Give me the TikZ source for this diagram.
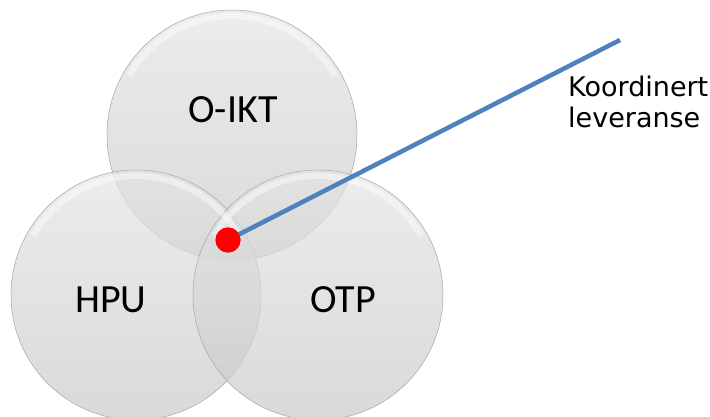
\documentclass[tikz,border=0pt]{standalone}
\usepackage{fontspec}
\setmainfont{Carlito}
\newfontfamily\verd{DejaVu Sans}
\definecolor{bluel}{HTML}{4F81BD}
\definecolor{ctop}{HTML}{E4E4E4}
\definecolor{cbot}{HTML}{C8C8C8}
\begin{document}
\begin{tikzpicture}[x=1pt,y=-1pt,
  venn/.style={circle,minimum size=250pt,inner sep=0pt,
    top color=ctop,bottom color=cbot,fill opacity=0.68,
    draw=gray!70,line width=0.5pt},
  ring/.style={white,opacity=0.45,line width=6pt},
  lab/.style={font=\fontsize{40}{40}\selectfont,text=black},
  side/.style={font=\verd\fontsize{27}{31}\selectfont,align=left,anchor=north west,inner sep=0pt}]
\useasboundingbox (0,0) rectangle (710,416);
\fill[white] (0,0) rectangle (710,416);
\node[venn] (oikt) at (232,135) {};
\node[venn] (hpu) at (136,295) {};
\node[venn] (otp) at (318,295) {};
\foreach \c in {oikt,hpu,otp}{
  \draw[ring] (\c.center) ++(-30:119) arc[start angle=-30,end angle=-150,radius=119];
}
\node[lab] (toplab) at (233,110) {O-IKT};
\node[lab] (hpulab) at (111,300) {HPU};
\node[lab] (otplab) at (343,300) {OTP};
\coordinate (tip) at (620,40);
\node[circle,fill=red,minimum size=25pt,inner sep=0pt] (dot) at (228,240) {};
\draw[bluel,line width=4.5pt] (dot.center) -- (tip);
\node[circle,fill=red,minimum size=25pt,inner sep=0pt] at (dot.center) {};
\node[side] (klab) at (568,76) {Koordinert\\leveranse};
\end{tikzpicture}
\end{document}
